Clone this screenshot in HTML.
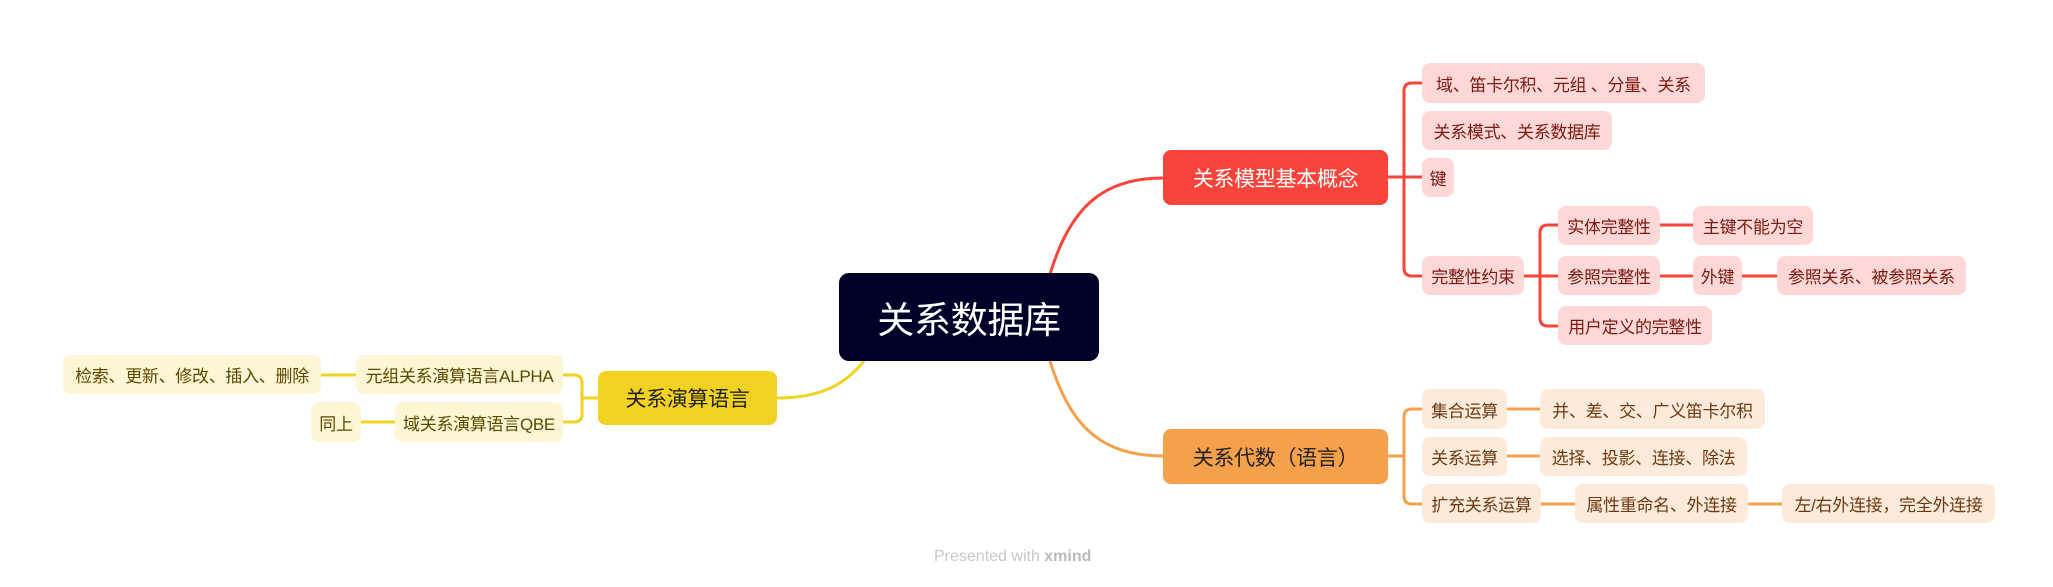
<!DOCTYPE html>
<html><head><meta charset="utf-8"><style>
body{margin:0;width:2053px;height:587px;background:#fff;position:relative;overflow:hidden;font-family:"Liberation Sans","Noto Sans CJK SC",sans-serif}
.n{position:absolute;display:flex;align-items:center;justify-content:center;border-radius:8px;font-size:17px;white-space:nowrap;box-sizing:border-box;letter-spacing:-0.3px}
.r{background:#fdd8d6;color:#7a1a12}
.o{background:#fdeadb;color:#6b3a10}
.y{background:#fdf5d3;color:#5a4a00}
</style></head><body>
<svg width="2053" height="587" style="position:absolute;left:0;top:0" fill="none" stroke-width="3">
<g stroke="#f9443b">
<path d="M1050 274 C1070 210,1100 178,1163 178"/>
<path d="M1388 177 H1422"/>
<path d="M1422 83 H1412 Q1404 83 1404 91 V268 Q1404 276 1412 276 H1422"/>
<path d="M1524 276 H1558"/>
<path d="M1558 225 H1548 Q1540 225 1540 233 V318 Q1540 326 1548 326 H1558"/>
<path d="M1660 225 H1693"/>
<path d="M1660 276 H1693"/>
<path d="M1742 276 H1777"/>
</g>
<g stroke="#f5a04a">
<path d="M1050 361 C1070 425,1100 456,1163 456"/>
<path d="M1388 456 H1404"/>
<path d="M1422 409 H1412 Q1404 409 1404 417 V496 Q1404 504 1412 504 H1422"/>
<path d="M1507 409 H1540"/>
<path d="M1507 456 H1540"/>
<path d="M1541 504 H1575"/>
<path d="M1748 504 H1782"/>
</g>
<g stroke="#f2d221">
<path d="M864 361 C845 385,820 398,777 398"/>
<path d="M598 398 H582"/>
<path d="M563 375 H574 Q582 375 582 383 V414 Q582 422 574 422 H563"/>
<path d="M321 375 H356"/>
<path d="M361 422 H395"/>
</g>
</svg>
<div class="n" style="left:839px;top:273px;width:260px;height:88px;background:#000028;color:#fff;font-size:37px;border-radius:10px">关系数据库</div>
<div class="n" style="left:1163px;top:150px;width:225px;height:55px;background:#f9443b;color:#fff;font-size:21px">关系模型基本概念</div>
<div class="n" style="left:1163px;top:429px;width:225px;height:55px;background:#f5a04a;color:#222;font-size:21px">关系代数（语言）</div>
<div class="n" style="left:598px;top:371px;width:179px;height:54px;background:#f2d221;color:#222;font-size:21px">关系演算语言</div>

<div class="n r" style="left:1422px;top:63px;width:283px;height:40px">域、笛卡尔积、元组 、分量、关系</div>
<div class="n r" style="left:1422px;top:111px;width:190px;height:39px">关系模式、关系数据库</div>
<div class="n r" style="left:1422px;top:158px;width:32px;height:39px">键</div>
<div class="n r" style="left:1422px;top:256px;width:102px;height:39px">完整性约束</div>
<div class="n r" style="left:1558px;top:206px;width:102px;height:39px">实体完整性</div>
<div class="n r" style="left:1693px;top:206px;width:120px;height:39px">主键不能为空</div>
<div class="n r" style="left:1558px;top:256px;width:102px;height:39px">参照完整性</div>
<div class="n r" style="left:1693px;top:256px;width:49px;height:39px">外键</div>
<div class="n r" style="left:1777px;top:256px;width:189px;height:39px">参照关系、被参照关系</div>
<div class="n r" style="left:1558px;top:306px;width:154px;height:39px">用户定义的完整性</div>

<div class="n o" style="left:1422px;top:389px;width:85px;height:40px">集合运算</div>
<div class="n o" style="left:1540px;top:389px;width:225px;height:40px">并、差、交、广义笛卡尔积</div>
<div class="n o" style="left:1422px;top:437px;width:85px;height:39px">关系运算</div>
<div class="n o" style="left:1540px;top:437px;width:207px;height:39px">选择、投影、连接、除法</div>
<div class="n o" style="left:1422px;top:484px;width:119px;height:39px">扩充关系运算</div>
<div class="n o" style="left:1575px;top:484px;width:173px;height:39px">属性重命名、外连接</div>
<div class="n o" style="left:1782px;top:484px;width:213px;height:39px">左/右外连接，完全外连接</div>

<div class="n y" style="left:356px;top:355px;width:207px;height:39px">元组关系演算语言ALPHA</div>
<div class="n y" style="left:63px;top:355px;width:258px;height:39px">检索、更新、修改、插入、删除</div>
<div class="n y" style="left:395px;top:402px;width:168px;height:40px">域关系演算语言QBE</div>
<div class="n y" style="left:311px;top:402px;width:50px;height:40px">同上</div>

<div style="position:absolute;left:934px;top:548px;font-size:16px;color:#c8c8c8">Presented with <b style="color:#bbb">xmind</b></div>
</body></html>
